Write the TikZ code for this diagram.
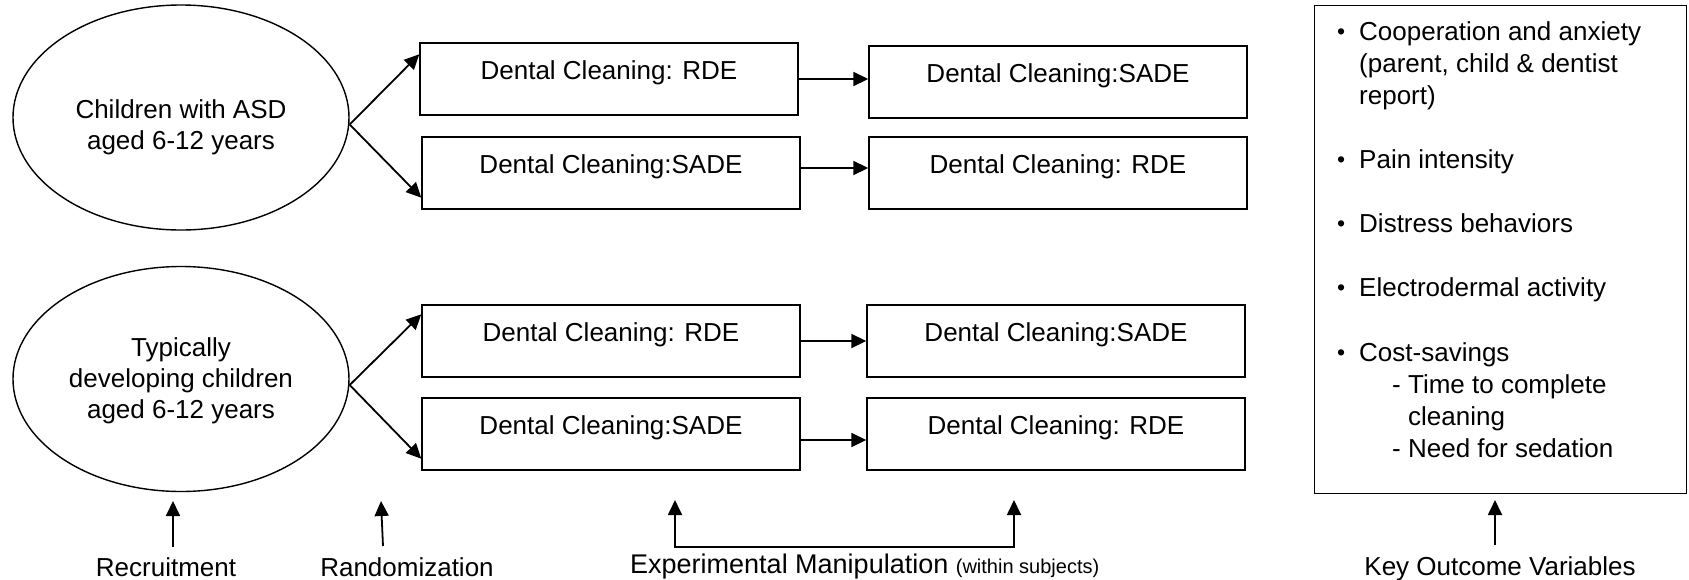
\documentclass[tikz,border=0pt]{standalone}
\usepackage{fontspec}
\setmainfont{Liberation Sans}
\usetikzlibrary{arrows.meta,shapes.geometric,calc}
\begin{document}
\begin{tikzpicture}[x=1pt,y=-1pt,
  txt/.style={font=\fontsize{26}{31}\selectfont, inner sep=0pt},
  bul/.style={font=\fontsize{23}{26}\selectfont, inner sep=0pt, anchor=base west},
  stepbox/.style={draw, line width=1.4pt, minimum width=378pt, minimum height=72pt,
    inner xsep=0pt, inner ysep=17pt, text height=19pt, text depth=19pt,
    font=\fontsize{26}{31}\selectfont},
  group/.style={draw, ellipse, line width=1.4pt, minimum width=336pt,
    minimum height=225pt, inner sep=0pt},
  arr/.style={line width=1.8pt, -{Triangle[length=15pt,width=14pt]}},
  arrboth/.style={line width=1.8pt, {Triangle[length=15pt,width=14pt]}-{Triangle[length=15pt,width=14pt]}},
]
\useasboundingbox (0,0) rectangle (1689,579);

% groups
\node[group] (E1) at (181,117.5) {};
\node[txt, align=center] (T1) at (181,127) {Children with ASD\\aged 6-12 years};
\node[group] (E2) at (181,379) {};
\node[txt, align=center] (T2) at (181,381) {Typically\\developing children\\aged 6-12 years};

% boxes
\node[stepbox] (A1) at (609,79) {Dental Cleaning: RDE};
\node[stepbox] (A2) at (611,173) {Dental Cleaning:SADE};
\node[stepbox] (B1) at (1058,82) {Dental Cleaning:SADE};
\node[stepbox] (B2) at (1058,173) {Dental Cleaning: RDE};
\node[stepbox] (C1) at (611,341) {Dental Cleaning: RDE};
\node[stepbox] (C2) at (611,434) {Dental Cleaning:SADE};
\node[stepbox] (D1) at (1056,341) {Dental Cleaning:SADE};
\node[stepbox] (D2) at (1056,434) {Dental Cleaning: RDE};

% randomization arrows
\draw[arr] ([yshift=-7pt]E1.east) -- ([yshift=-12pt]A1.north west);
\draw[arr] ([yshift=-7pt]E1.east) -- ([yshift=12pt]A2.south west);
\draw[arr] ([yshift=-6pt]E2.east) -- ([yshift=-10pt]C1.north west);
\draw[arr] ([yshift=-6pt]E2.east) -- ([yshift=12pt]C2.south west);

% sequence arrows
\draw[arr] (A1.east) -- (A1.east -| B1.west);
\draw[arr] ([yshift=5pt]A2.east) -- ([yshift=5pt]A2.east -| B2.west);
\draw[arr] (C1.east) -- (C1.east -| D1.west);
\draw[arr] ([yshift=-6pt]C2.east) -- ([yshift=-6pt]C2.east -| D2.west);

% outcome box
\node[draw, line width=1.4pt, anchor=north west, minimum width=372pt,
      minimum height=488pt, inner sep=0pt] (OUT) at (1314,5) {};
\node[bul] (b1) at (1337,39) {•};
\node[txt, anchor=base west] (o1) at (1359,40) {Cooperation and anxiety};
\node[txt, anchor=base west] (o2) at (1359,72.1) {(parent, child \& dentist};
\node[txt, anchor=base west] (o3) at (1359,104.2) {report)};
\node[bul] (b2) at (1337,167.4) {•};
\node[txt, anchor=base west] (o4) at (1359,168.4) {Pain intensity};
\node[bul] (b3) at (1337,231.6) {•};
\node[txt, anchor=base west] (o5) at (1359,232.6) {Distress behaviors};
\node[bul] (b4) at (1337,295.8) {•};
\node[txt, anchor=base west] (o6) at (1359,296.8) {Electrodermal activity};
\node[bul] (b5) at (1337,360) {•};
\node[txt, anchor=base west] (o7) at (1359,361) {Cost-savings};
\node[txt, anchor=base west] (o8) at (1392,393.1) {- Time to complete};
\node[txt, anchor=base west] (o9) at (1408,425.2) {cleaning};
\node[txt, anchor=base west] (o10) at (1392,457.3) {- Need for sedation};

% bottom labels
\node[txt, anchor=base] (rec) at (166,576) {Recruitment};
\node[txt, anchor=base] (rand) at (407,576) {Randomization};
\node[txt, anchor=base west] (exp) at (630,573) {\fontsize{27}{31}\selectfont Experimental Manipulation {\fontsize{20}{24}\selectfont (within subjects)}};
\node[txt, anchor=base] (key) at (1500,575) {Key Outcome Variables};

% bottom arrows
\coordinate (r1) at (173,547); \coordinate (r2) at (173,501);
\coordinate (q1) at (383,546); \coordinate (q2) at (381,501);
\coordinate (eL) at (675,500); \coordinate (eLb) at (675,547);
\coordinate (eRb) at (1014,547); \coordinate (eR) at (1014,500);
\coordinate (k1) at (1495,545); \coordinate (k2) at (1495,500);
\draw[arr] (r1) -- (r2);
\draw[arr] (q1) -- (q2);
\draw[arrboth] (eL) -- (eLb) -- (eRb) -- (eR);
\draw[arr] (k1) -- (k2);
\end{tikzpicture}
\end{document}
